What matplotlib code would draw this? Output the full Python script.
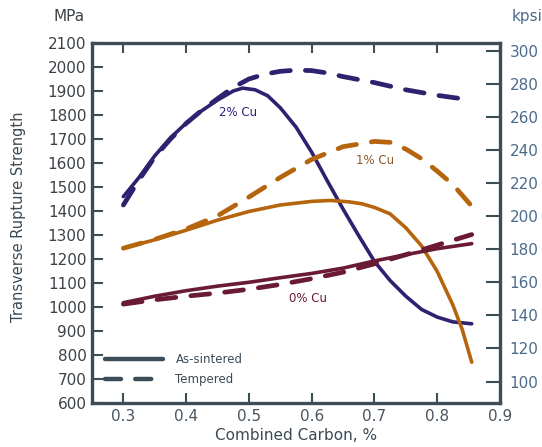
import numpy as np
import matplotlib.pyplot as plt

# --- Transverse rupture strength (MPa) vs combined carbon (%) ---
# 2% Cu
c2_sint_x = [0.30, 0.325, 0.35, 0.375, 0.40, 0.425, 0.45, 0.475, 0.49, 0.51, 0.53,
             0.55, 0.575, 0.60, 0.625, 0.65, 0.675, 0.70, 0.725, 0.75, 0.775,
             0.80, 0.825, 0.855]
c2_sint_y = [1460, 1540, 1630, 1705, 1766, 1818, 1862, 1900, 1912, 1905, 1880,
             1830, 1750, 1645, 1525, 1408, 1297, 1190, 1110, 1045, 990,
             958, 938, 930]
c2_temp_x = [0.30, 0.325, 0.35, 0.375, 0.40, 0.425, 0.45, 0.475, 0.50, 0.525,
             0.55, 0.575, 0.60, 0.625, 0.65, 0.70, 0.75, 0.80, 0.855]
c2_temp_y = [1425, 1530, 1625, 1700, 1765, 1820, 1868, 1915, 1950, 1970,
             1982, 1987, 1985, 1975, 1960, 1935, 1905, 1882, 1862]

# 1% Cu
c1_sint_x = [0.30, 0.35, 0.40, 0.45, 0.50, 0.55, 0.60, 0.63, 0.66, 0.68, 0.70,
             0.725, 0.75, 0.775, 0.80, 0.825, 0.84, 0.855]
c1_sint_y = [1245, 1280, 1320, 1362, 1398, 1425, 1440, 1444, 1438, 1430, 1415,
             1388, 1330, 1255, 1148, 1008, 905, 770]
c1_temp_x = [0.30, 0.35, 0.40, 0.45, 0.50, 0.55, 0.60, 0.65, 0.70, 0.725, 0.75,
             0.775, 0.80, 0.825, 0.855]
c1_temp_y = [1245, 1282, 1325, 1380, 1458, 1540, 1615, 1668, 1690, 1686, 1658,
             1618, 1566, 1510, 1420]

# 0% Cu
c0_sint_x = [0.30, 0.35, 0.40, 0.45, 0.50, 0.55, 0.60, 0.65, 0.70, 0.75, 0.80, 0.855]
c0_sint_y = [1018, 1045, 1068, 1087, 1103, 1122, 1140, 1162, 1192, 1218, 1243, 1264]
c0_temp_x = [0.30, 0.35, 0.40, 0.45, 0.50, 0.55, 0.60, 0.65, 0.70, 0.75, 0.80, 0.855]
c0_temp_y = [1012, 1030, 1045, 1058, 1074, 1094, 1118, 1145, 1180, 1218, 1258, 1302]

series_labels = ['2% Cu', '1% Cu', '0% Cu']
label_pos = [(0.482, 1812), (0.701, 1611), (0.594, 1034)]

x_ticks = [0.3, 0.4, 0.5, 0.6, 0.7, 0.8, 0.9]
mpa_ticks = list(range(600, 2101, 100))
kpsi_ticks = list(range(100, 301, 20))
MPA_PER_KPSI = 6.894757

navy = '#2d2170'
orange = '#b5650d'
maroon = '#6a1b33'
frame = '#3d4d58'
blue_txt = '#4a6b8c'
gray_txt = '#3c4248'

fig = plt.figure(figsize=(5.42, 4.47), dpi=100)
ax = fig.add_axes([0.1697, 0.0984, 0.7528, 0.8054])
ax2 = ax.twinx()

dash = (4.0, 3.2)
curves = [
    (c2_sint_x, c2_sint_y, c2_temp_x, c2_temp_y, navy),
    (c1_sint_x, c1_sint_y, c1_temp_x, c1_temp_y, orange),
    (c0_sint_x, c0_sint_y, c0_temp_x, c0_temp_y, maroon),
]
for sx, sy, tx, ty, col in curves:
    ax.plot(tx, ty, color=col, lw=3.4, dashes=dash, dash_capstyle='round',
            solid_capstyle='round')
    ax.plot(sx, sy, color=col, lw=2.6, solid_capstyle='round')

for (lx, ly), txt, col in zip(label_pos, series_labels, [navy, '#8a5a2a', maroon]):
    ax.text(lx, ly, txt, color=col, fontsize=8.5, ha='center', va='center')

# legend drawn by hand in the lower left corner
ax.plot([0.271, 0.363], [783, 783], color=frame, lw=3.2, solid_capstyle='round')
ax.plot([0.271, 0.363], [700, 700], color=frame, lw=3.2, dashes=(3.6, 3.2),
        dash_capstyle='round')
ax.text(0.383, 783, 'As-sintered', fontsize=8.5, color='#3c4a55', va='center')
ax.text(0.383, 700, 'Tempered', fontsize=8.5, color='#3c4a55', va='center')

ax.set_xlim(0.25, 0.9)
ax.set_ylim(600, 2100)
ax.set_xticks(x_ticks)
ax.set_xticklabels([f'{v:.1f}' for v in x_ticks])
ax.set_yticks(mpa_ticks)

ax2.set_ylim(600 / MPA_PER_KPSI, 2100 / MPA_PER_KPSI)
ax2.set_yticks(kpsi_ticks)
ax2.tick_params(axis='y', direction='in', length=10, width=1.5, color=frame,
                labelsize=11, labelcolor=blue_txt, pad=7)
for sp in ax2.spines.values():
    sp.set_visible(False)

for sp in ax.spines.values():
    sp.set_color(frame)
    sp.set_linewidth(2.4)

ax.tick_params(axis='x', which='major', direction='in', length=7, width=1.5,
               color=frame, bottom=True, top=True, labelsize=11,
               labelcolor='#4a5560', pad=4)
ax.tick_params(axis='y', direction='in', length=8, width=1.5, color=frame,
               left=True, right=False, labelsize=11, labelcolor=gray_txt, pad=4)

ax.set_xlabel('Combined Carbon, %', fontsize=11, color='#3c4a55', labelpad=3)
fig.text(0.034, 0.514, 'Transverse Rupture Strength', rotation=90, fontsize=10.5,
         color='#3c4a55', ha='center', va='center')
fig.text(0.127, 0.962, 'MPa', fontsize=11, color=gray_txt, ha='center', va='center')
fig.text(0.972, 0.962, 'kpsi', fontsize=11, color=blue_txt, ha='center', va='center')

fig.savefig('out.png', dpi=100)
